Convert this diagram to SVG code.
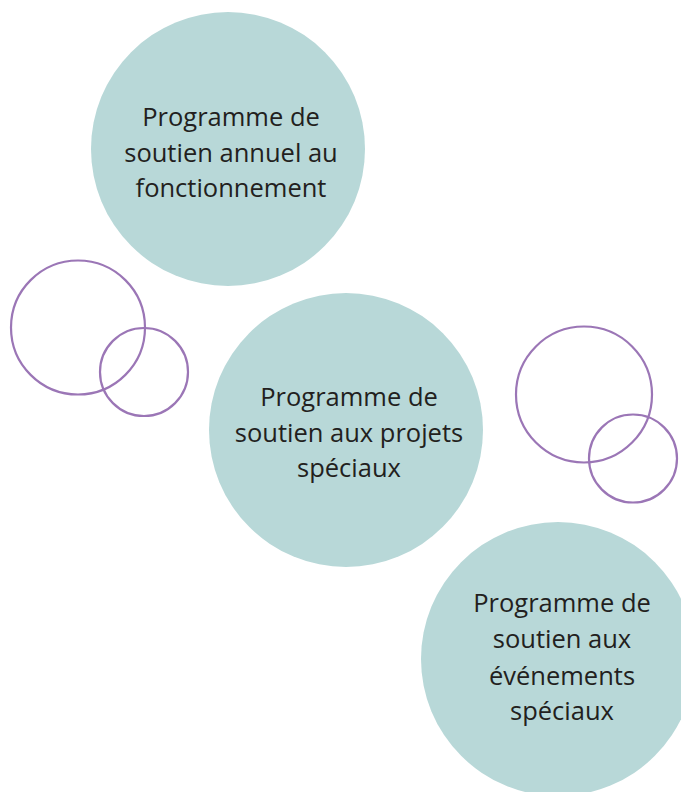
<svg xmlns="http://www.w3.org/2000/svg" width="681" height="792" viewBox="0 0 681 792">
<style>
.bub{fill:#b8d8d8;}
.ring{fill:none;stroke:#9b76b6;stroke-width:2.2;}
.lbl{font-family:"Open Sans","Liberation Sans",sans-serif;font-size:25.5px;fill:#231f20;text-anchor:middle;}
</style>
<rect width="681" height="792" fill="#ffffff"/>
<g id="node-annuel">
<circle class="bub" cx="228" cy="149" r="137"/>
<text class="lbl" x="231" y="126">Programme de</text>
<text class="lbl" x="231" y="162">soutien annuel au</text>
<text class="lbl" x="231" y="197">fonctionnement</text>
</g>
<g id="node-projets">
<circle class="bub" cx="346" cy="430" r="137"/>
<text class="lbl" x="349" y="406">Programme de</text>
<text class="lbl" x="349" y="442">soutien aux projets</text>
<text class="lbl" x="349" y="477">spéciaux</text>
</g>
<g id="node-evenements">
<circle class="bub" cx="558" cy="659" r="137"/>
<text class="lbl" x="562" y="612">Programme de</text>
<text class="lbl" x="562" y="648">soutien aux</text>
<text class="lbl" x="562" y="685">événements</text>
<text class="lbl" x="562" y="720">spéciaux</text>
</g>
<g id="rings-left">
<circle class="ring" cx="78" cy="327.5" r="67"/>
<circle class="ring" cx="144" cy="372" r="44"/>
</g>
<g id="rings-right">
<circle class="ring" cx="584" cy="394.5" r="68"/>
<circle class="ring" cx="633" cy="458.5" r="44"/>
</g>
<g id="connectors"></g>
</svg>
